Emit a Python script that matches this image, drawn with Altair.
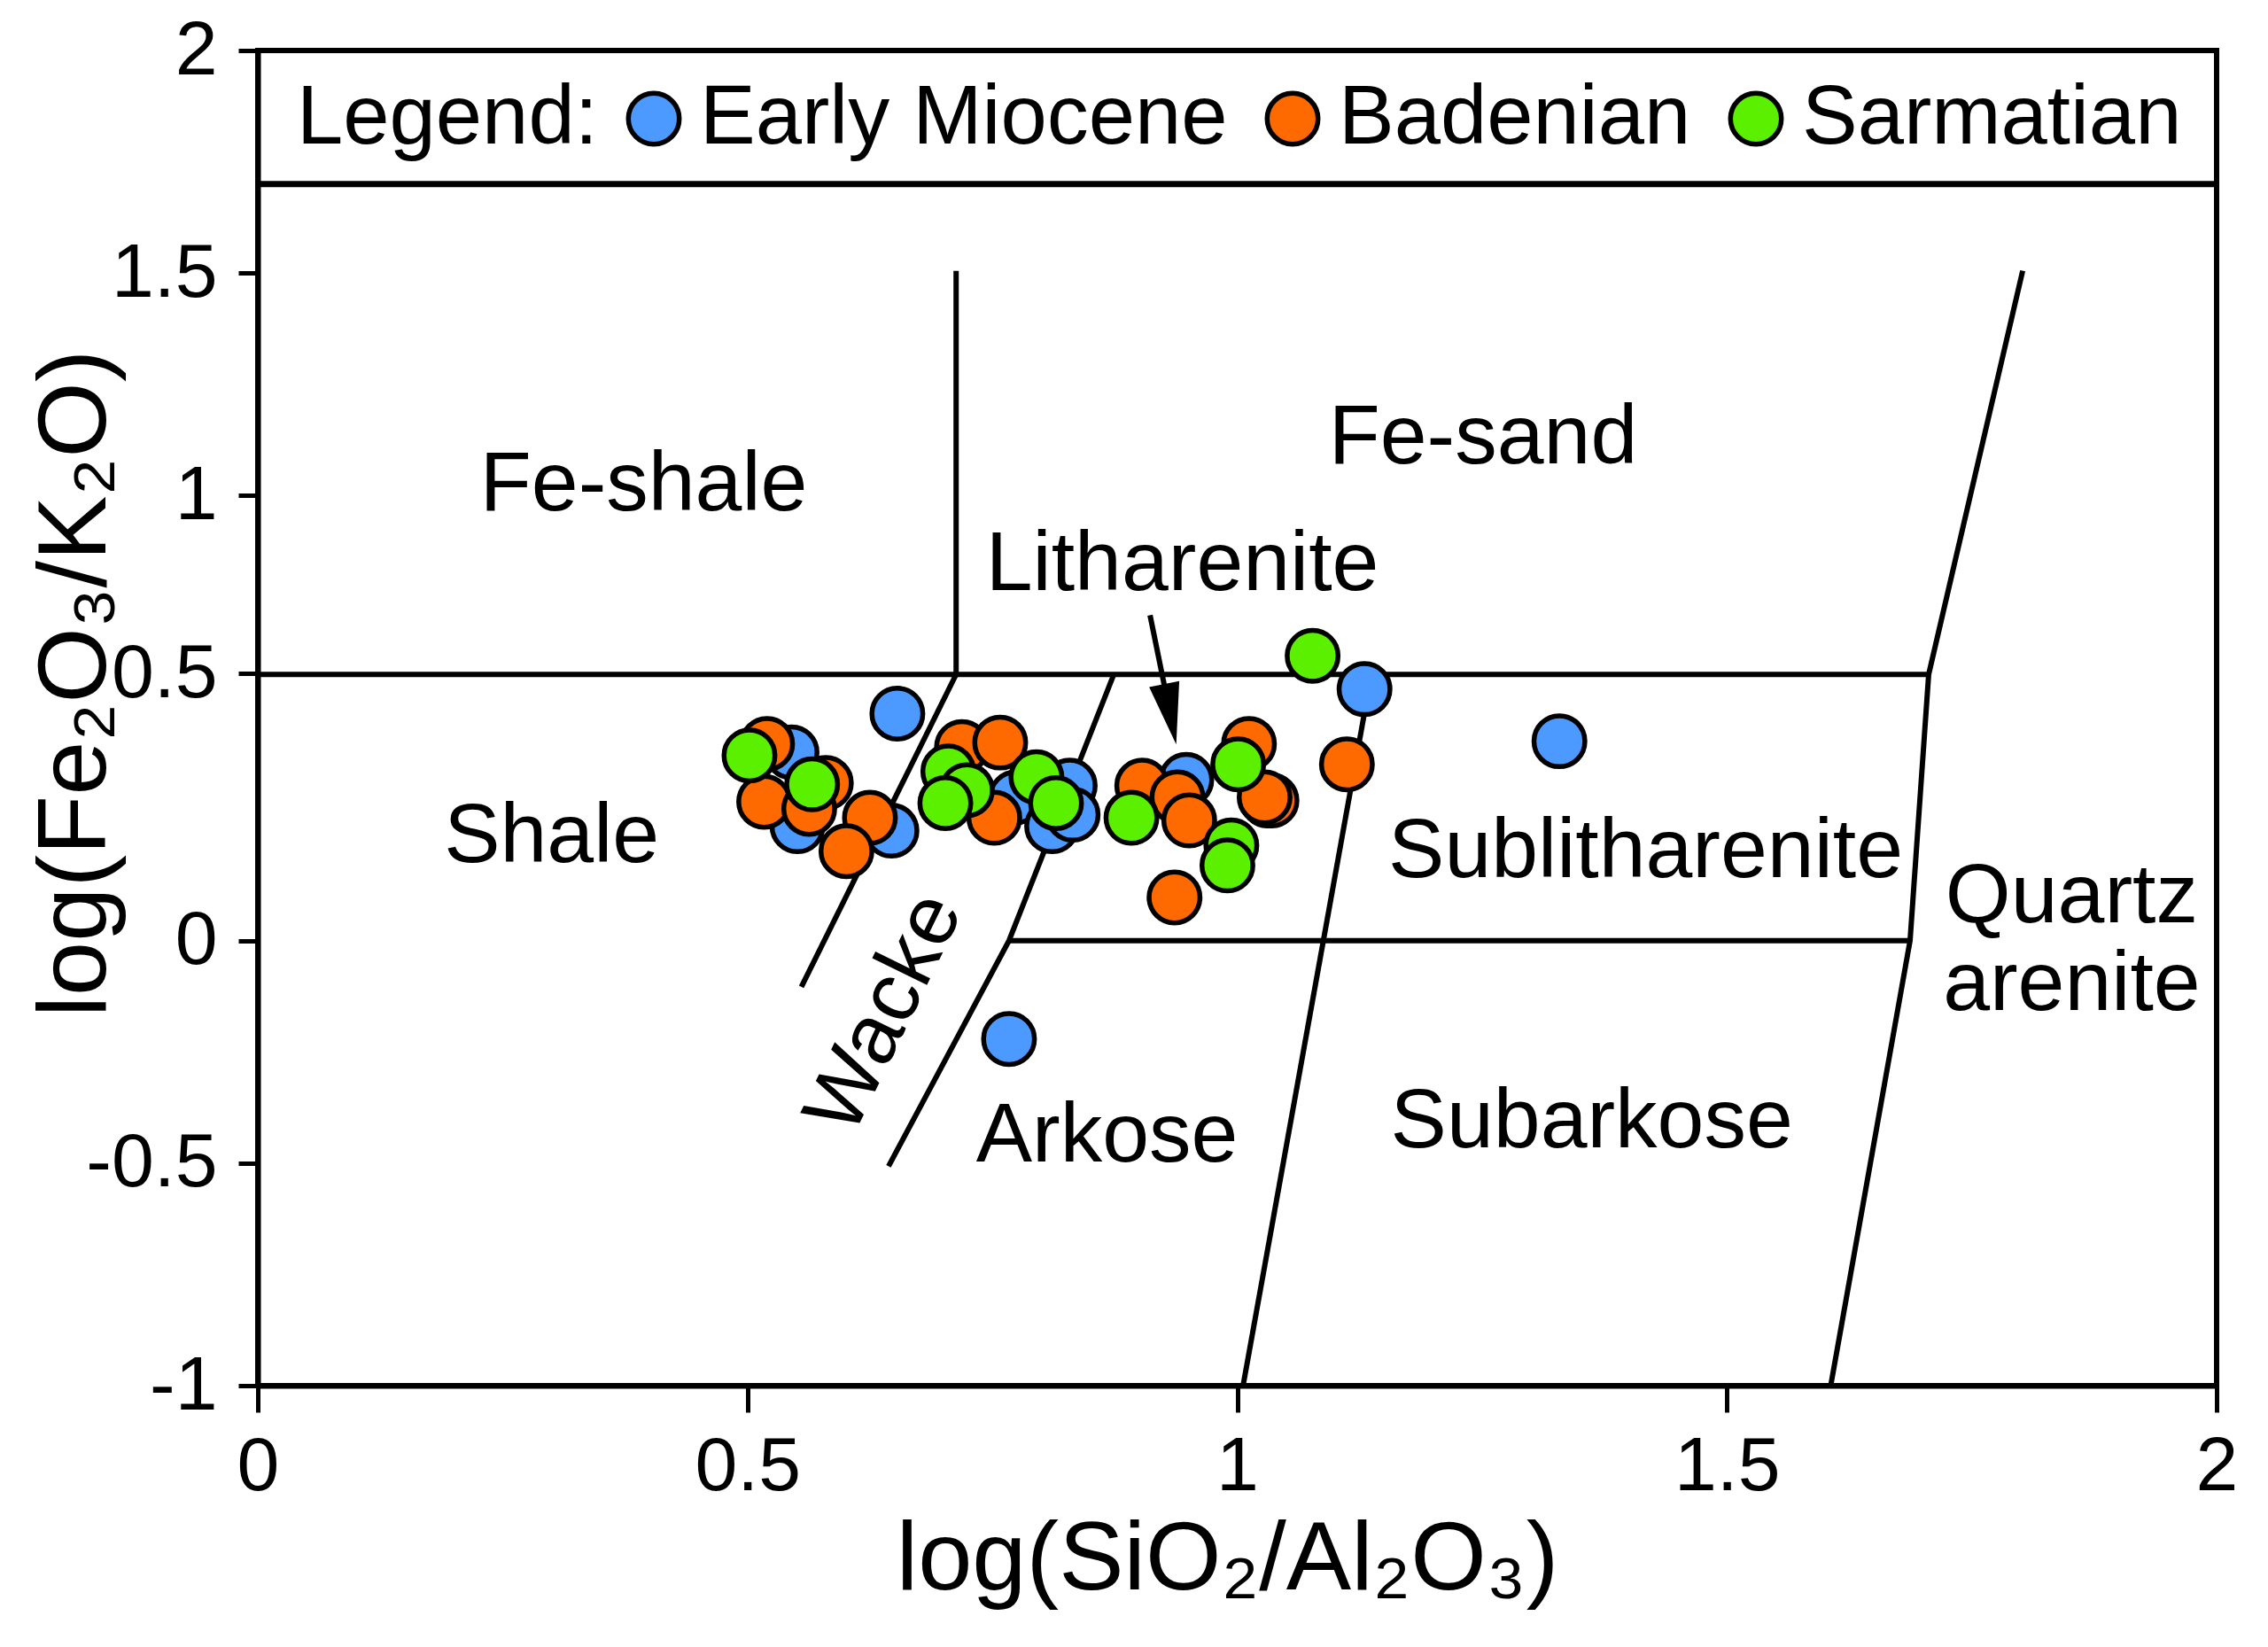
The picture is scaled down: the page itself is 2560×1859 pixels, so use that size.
import altair as alt
import pandas as pd

# ---------------- data ----------------
ages = ["Early Miocene", "Badenian", "Sarmatian"]
age_colors = ["#4C9AFF", "#FF6A00", "#5AF000"]

em_x = [0.653, 0.545, 0.551, 0.647, 0.774, 0.829, 0.811, 0.832, 0.948, 1.031, 1.130, 1.329, 0.767]
em_y = [0.510, 0.423, 0.257, 0.247, 0.322, 0.348, 0.257, 0.283, 0.361, 0.315, 0.565, 0.448, -0.221]

bd_x = [0.520, 0.517, 0.580, 0.563, 0.625, 0.601, 0.719, 0.758, 0.752, 0.903, 0.939, 0.951, 1.012, 1.035, 1.028, 0.936, 1.112]
bd_y = [0.442, 0.312, 0.354, 0.296, 0.276, 0.201, 0.435, 0.445, 0.276, 0.348, 0.322, 0.270, 0.442, 0.315, 0.322, 0.097, 0.396]

sa_x = [0.502, 0.566, 0.705, 0.724, 0.702, 0.795, 0.815, 0.892, 1.001, 0.994, 0.990, 1.077]
sa_y = [0.416, 0.351, 0.380, 0.338, 0.309, 0.367, 0.309, 0.276, 0.396, 0.214, 0.169, 0.640]

# classification field boundaries (polylines)
bound_id = ["A", "A",
            "B", "B",
            "C", "C", "C", "C",
            "D", "D",
            "E", "E",
            "F", "F", "F",
            "G", "G"]
bound_x = [0.713, 0.713,
           0.0, 1.706,
           1.802, 1.706, 1.687, 1.606,
           0.767, 1.687,
           0.713, 0.555,
           0.874, 0.767, 0.644,
           1.137, 1.006]
bound_y = [0.598, 1.505,
           0.598, 0.598,
           1.505, 0.598, 0.0, -1.0,
           0.0, 0.0,
           0.598, -0.104,
           0.598, 0.0, -0.507,
           0.598, -1.0]

legend_sep_y = 1.70

field_names = ["Fe-shale", "Fe-sand", "Litharenite", "Shale", "Sublitharenite",
               "Quartz", "arenite", "Arkose", "Subarkose"]
field_x = [0.394, 1.251, 0.944, 0.300, 1.417, 1.852, 1.852, 0.867, 1.362]
field_y = [1.024, 1.131, 0.845, 0.234, 0.201, 0.098, -0.098, -0.439, -0.406]

wacke_name = ["Wacke"]
wacke_x = [0.640]
wacke_y = [-0.163]

arrow_x = [0.911, 0.9316]
arrow_y = [0.731, 0.5086]
arrow_head_x = [0.9316]
arrow_head_y = [0.5086]

x_ticks = [0, 0.5, 1, 1.5, 2]
y_ticks = [-1, -0.5, 0, 0.6, 1, 1.5, 2]

# ---------------- frames ----------------
pts = pd.DataFrame({
    "x": em_x + bd_x + sa_x,
    "y": em_y + bd_y + sa_y,
    "age": [ages[0]] * len(em_x) + [ages[1]] * len(bd_x) + [ages[2]] * len(sa_x),
})
bounds = pd.DataFrame({"x": bound_x, "y": bound_y, "id": bound_id,
                       "seq": list(range(len(bound_x)))})
fields = pd.DataFrame({"x": field_x, "y": field_y, "text": field_names})
wacke = pd.DataFrame({"x": wacke_x, "y": wacke_y, "text": wacke_name})
arrow = pd.DataFrame({"x": arrow_x, "y": arrow_y, "seq": [0, 1]})
head = pd.DataFrame({"x": arrow_head_x, "y": arrow_head_y})
sep = pd.DataFrame({"y": [legend_sep_y]})

FONT = "Liberation Sans, Arial, DejaVu Sans"

xscale = alt.Scale(domain=[0, 2], nice=False, zero=False)
yscale = alt.Scale(domain=[-1, 2], nice=False, zero=False)

xaxis = alt.Axis(values=x_ticks, labelExpr="format(datum.value, '.1~f')",
                 title="log(SiO₂/Al₂O₃)", tickSize=30, labelPadding=19,
                 labelFlush=False, labelOverlap=False,
                 titleX=1094, titleY=229, titleBaseline="alphabetic", titleAlign="center")
yaxis = alt.Axis(values=y_ticks,
                 labelExpr="datum.value == 0.6 ? '0.5' : replace(format(datum.value, '.1~f'), '\u2212', '-')",
                 title="log(Fe₂O₃/K₂O)", tickSize=22, labelPadding=24,
                 labelFlush=False, labelOverlap=False,
                 titleX=-173, titleY=714, titleAngle=270,
                 titleBaseline="alphabetic", titleAlign="center")

X = alt.X("x:Q", scale=xscale, axis=xaxis)
Y = alt.Y("y:Q", scale=yscale, axis=yaxis)

lines = alt.Chart(bounds).mark_line(color="black", strokeWidth=6).encode(
    x=X, y=Y, detail="id:N", order="seq:Q")

sep_rule = alt.Chart(sep).mark_rule(color="black", strokeWidth=7).encode(
    y=alt.Y("y:Q", scale=yscale, axis=yaxis))

field_text = alt.Chart(fields).mark_text(
    font=FONT, fontSize=95, color="black", align="center", baseline="middle"
).encode(x=X, y=Y, text="text:N")

wacke_text = alt.Chart(wacke).mark_text(
    font=FONT, fontSize=95, color="black", align="center", baseline="middle", angle=296
).encode(x=X, y=Y, text="text:N")

arrow_line = alt.Chart(arrow).mark_line(color="black", strokeWidth=6).encode(
    x=X, y=Y, order="seq:Q")

arrow_head = alt.Chart(head).mark_point(
    shape="M-0.5,-1L0.5,-1L0,1Z", size=4800, filled=True, color="black",
    opacity=1, angle=348.7
).encode(x=X, y=Y)

points = alt.Chart(pts).mark_circle(
    size=3300, stroke="black", strokeWidth=5.5, opacity=1
).encode(
    x=X, y=Y,
    color=alt.Color("age:N", scale=alt.Scale(domain=ages, range=age_colors),
                    legend=alt.Legend(
                        orient="none", legendX=44, legendY=30,
                        direction="horizontal", title="Legend:",
                        titleOrient="left", titleFont=FONT, titleFontSize=94,
                        titleFontWeight="normal", titleColor="black",
                        titlePadding=16, titleLimit=2000,
                        labelFont=FONT, labelFontSize=94, labelColor="black",
                        labelLimit=2000, labelOffset=5, columnPadding=26,
                        symbolType="circle", symbolSize=3300,
                        symbolStrokeColor="black", symbolStrokeWidth=5.5,
                        symbolOpacity=1, padding=0)),
)

chart = alt.layer(
    lines, sep_rule, field_text, wacke_text, arrow_line, arrow_head, points
).properties(
    width=2211, height=1507,
    autosize=alt.AutoSizeParams(type="none"),
    padding={"left": 283, "top": 49, "right": 50, "bottom": 287},
    background="white",
).configure_view(
    stroke="black", strokeWidth=6
).configure_axis(
    grid=False, domainColor="black", domainWidth=6, tickColor="black",
    tickWidth=5, labelFont=FONT, labelFontSize=86, labelColor="black",
    titleFont=FONT, titleFontSize=110, titleFontWeight="normal",
    titleColor="black"
)

chart.save("out.html", embed_options={"renderer": "svg", "actions": False})
